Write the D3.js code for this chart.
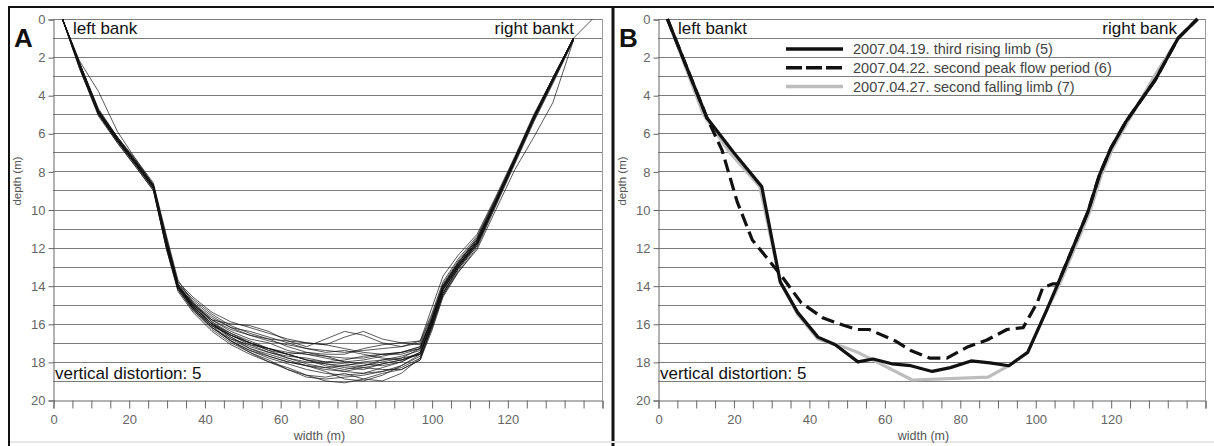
<!DOCTYPE html>
<html>
<head>
<meta charset="utf-8">
<script src="https://cdn.jsdelivr.net/npm/d3@7"></script>
<style>
  body { margin: 0; background: #fff; }
  svg { display: block; font-family: "Liberation Sans", Arial, sans-serif; }
</style>
</head>
<body>
<svg width="1214" height="446"></svg>
<script>
// stations (m) shared by all cross sections of panel A
var stations = [2.5, 7, 12, 17, 22, 26.5, 30, 33, 37, 42, 47, 52, 57, 62, 67, 72, 77, 82, 87, 92, 97, 100, 103, 107, 112, 117, 122, 127, 132, 137.5, 142.5];

// panel A: depths (m) of the individual surveys at each station
var surveysA = [
  [0, 2.3, 4.8, 6.2, 7.5, 8.7, 11.5, 13.9, 14.8, 15.6, 16.2, 16.6, 16.9, 17.1, 17.3, 17.4, 17.5, 17.4, 17.3, 17.2, 17.0, 15.6, 13.9, 12.7, 11.5, 9.5, 7.3, 5.1, 3.1, 1.0, null],
  [0, 2.5, 5.0, 6.4, 7.7, 8.9, 12.0, 14.2, 15.3, 16.2, 16.9, 17.4, 17.8, 18.1, 18.4, 18.6, 18.7, 18.6, 18.5, 18.3, 17.8, 16.2, 14.4, 13.1, 11.9, 9.7, 7.5, 5.3, 3.3, 1.1, null],
  [0, 2.4, 4.9, 6.3, 7.6, 8.8, 11.9, 14.1, 15.1, 16.0, 16.7, 17.3, 17.6, 17.9, 18.2, 18.5, 18.9, 19.0, 18.7, 18.2, 17.6, 16.0, 14.2, 13.0, 11.8, 9.6, 7.4, 5.2, 3.2, 1.0, null],
  [0, 2.4, 4.8, 6.3, 7.5, 8.7, 11.6, 13.8, 14.6, 15.4, 15.9, 16.2, 16.5, 16.8, 17.0, 17.1, 16.7, 16.4, 16.8, 17.0, 17.1, 15.7, 14.0, 12.8, 11.6, 9.5, 7.3, 5.1, 3.2, 1.0, null],
  [0, 2.6, 5.1, 6.5, 7.8, 9.0, 12.1, 14.3, 15.4, 16.4, 17.1, 17.6, 18.0, 18.3, 18.7, 19.0, 19.1, 18.9, 18.6, 18.4, 17.9, 16.4, 14.6, 13.3, 12.0, 9.8, 7.6, 5.4, 3.4, 1.1, null],
  [0, 2.3, 4.7, 6.2, 7.4, 8.6, 11.4, 13.7, 14.9, 15.8, 16.4, 16.8, 17.0, 17.4, 17.6, 17.7, 17.8, 17.8, 17.6, 17.5, 17.3, 15.8, 14.1, 12.9, 11.7, 9.6, 7.4, 5.2, 3.2, 1.0, null],
  [0, 2.4, 5.0, 6.4, 7.6, 8.8, 11.8, 14.0, 15.2, 16.1, 16.6, 17.0, 17.4, 17.8, 18.0, 18.1, 18.2, 18.3, 18.4, 18.4, 17.9, 16.1, 14.3, 13.0, 11.8, 9.6, 7.4, 5.2, 3.2, 1.0, null],
  [0, 2.4, 4.9, 6.4, 7.7, 8.9, 12.0, 14.1, 15.0, 15.8, 16.3, 16.6, 16.8, 16.9, 17.0, 17.1, 17.3, 17.5, 17.6, 17.5, 17.2, 15.8, 14.0, 12.8, 11.6, 9.6, 7.4, 5.2, 3.2, 1.0, null],
  [0, 2.5, 4.9, 6.3, 7.6, 8.8, 11.7, 14.0, 15.1, 16.0, 16.8, 17.3, 17.7, 18.0, 18.2, 18.3, 18.5, 18.6, 18.3, 18.0, 17.5, 16.0, 14.2, 13.0, 11.7, 9.6, 7.4, 5.2, 3.2, 1.0, null],
  [0, 2.3, 4.8, 6.2, 7.5, 8.7, 11.6, 13.9, 14.7, 15.5, 16.1, 16.5, 16.8, 17.2, 17.5, 17.6, 17.6, 17.3, 17.1, 17.0, 16.9, 15.5, 13.8, 12.6, 11.4, 9.4, 7.3, 5.1, 3.1, 1.0, null],
  [0, 2.4, 4.9, 6.3, 7.6, 8.8, 11.9, 14.1, 15.2, 16.2, 16.8, 17.1, 17.3, 17.6, 17.9, 18.2, 18.4, 18.2, 17.9, 17.8, 17.6, 16.1, 14.4, 13.1, 11.8, 9.7, 7.5, 5.3, 3.3, 1.0, null],
  [0, 2.5, 5.0, 6.4, 7.7, 8.9, 12.1, 14.2, 15.3, 16.3, 17.0, 17.5, 17.9, 18.4, 18.8, 18.9, 18.8, 18.7, 18.5, 18.2, 17.7, 16.3, 14.5, 13.2, 11.9, 9.7, 7.5, 5.3, 3.3, 1.1, null],
  [0, 2.4, 4.9, 6.3, 7.6, 8.8, 11.8, 14.0, 14.9, 15.7, 16.2, 16.4, 16.7, 17.0, 17.3, 17.5, 17.4, 17.6, 17.8, 17.9, 17.6, 15.9, 14.1, 12.9, 11.7, 9.6, 7.4, 5.2, 3.2, 1.0, null],
  [0, 2.3, 4.8, 6.3, 7.6, 8.8, 11.7, 13.9, 15.0, 16.0, 16.7, 17.2, 17.5, 17.7, 17.8, 18.0, 18.1, 18.2, 18.0, 17.8, 17.3, 15.8, 14.0, 12.8, 11.6, 9.5, 7.3, 5.1, 3.1, 1.0, null],
  [0, 2.6, 5.0, 6.5, 7.8, 9.0, 12.0, 14.2, 15.2, 16.1, 16.6, 17.0, 17.3, 17.5, 17.6, 17.8, 18.0, 18.1, 18.2, 18.0, 17.5, 16.0, 14.2, 13.0, 11.7, 9.6, 7.4, 5.2, 3.2, 1.0, null],
  [0, 2.4, 4.9, 6.3, 7.6, 8.8, 11.8, 14.0, 15.0, 15.8, 16.0, 16.1, 16.4, 16.9, 17.2, 16.8, 16.4, 16.6, 17.0, 17.2, 16.9, 15.2, 13.5, 12.4, 11.3, 9.3, 7.2, 5.0, 3.1, 1.0, null],
  [0, 2.4, 4.9, 6.3, 7.6, 8.8, 11.8, 14.1, 15.1, 16.1, 16.9, 17.5, 18.0, 18.4, 18.7, 18.8, 18.6, 18.9, 19.0, 18.6, 17.8, 16.2, 14.4, 13.1, 11.8, 9.6, 7.4, 5.2, 3.2, 1.0, null],
  [0, 2.4, 4.9, 6.2, 7.5, 8.8, 11.8, 14.0, 15.0, 15.9, 16.5, 17.0, 17.4, 17.6, 17.5, 17.7, 18.0, 17.9, 17.7, 17.5, 17.2, 15.8, 14.1, 12.9, 11.7, 9.6, 7.4, 5.2, 3.2, 1.0, null],
  [0, 2.2, 3.8, 5.9, 7.4, 8.7, 11.7, 14.0, 15.1, 16.0, 16.6, 17.1, 17.5, 17.8, 18.1, 18.3, 18.2, 18.0, 17.9, 17.7, 17.4, 15.9, 14.0, 12.8, 11.5, 9.4, 7.3, 5.1, 3.2, 1.0, 0],
  [0, 2.5, 5.0, 6.4, 7.7, 8.9, 11.9, 14.0, 14.9, 15.9, 16.6, 17.0, 17.3, 17.6, 17.9, 18.1, 18.3, 18.4, 18.1, 17.9, 17.5, 16.1, 14.5, 13.3, 12.1, 10.0, 7.9, 6.2, 4.4, 1.1, null],
  [0, 2.4, 4.9, 6.3, 7.6, 8.8, 11.8, 14.0, 15.1, 16.0, 16.5, 16.9, 17.3, 17.6, 17.9, 18.0, 17.9, 17.7, 17.6, 17.6, 17.3, 15.8, 14.1, 12.9, 11.7, 9.6, 7.4, 5.2, 3.2, 1.0, null],
  [0, 2.4, 4.8, 6.3, 7.6, 8.8, 11.8, 14.1, 15.2, 16.2, 16.9, 17.4, 17.7, 18.0, 18.2, 18.4, 18.5, 18.3, 18.1, 17.9, 17.6, 15.9, 14.2, 13.0, 11.7, 9.6, 7.4, 5.2, 3.2, 1.0, null]
];

// panel B: three selected surveys, own stations
var bX5 = [2.5, 13, 20, 27.5, 32.4, 37, 42.4, 47, 53, 57, 62, 67, 72.7, 77.5, 83, 88, 93, 98, 103, 106, 110, 114, 117, 120, 124, 131.8, 137.9, 143];
var bD5 = [0, 5.2, 7.0, 8.8, 13.8, 15.4, 16.7, 17.1, 18.0, 17.85, 18.1, 18.2, 18.5, 18.3, 17.95, 18.05, 18.2, 17.5, 15.3, 13.9, 12.0, 10.1, 8.2, 6.8, 5.4, 3.2, 1.0, 0];

var bX6 = [2.5, 13, 17, 21, 25, 32.4, 38, 43.8, 48, 52.8, 56, 62.9, 67, 72, 76.6, 82.2, 87.2, 92.5, 96.8, 100.5, 102, 104.7, 106, 110, 114, 117, 120, 124, 131.8, 137.9, 143];
var bD6 = [0, 5.2, 6.9, 9.6, 11.6, 13.4, 14.9, 15.7, 16.0, 16.3, 16.3, 16.9, 17.4, 17.8, 17.8, 17.2, 16.85, 16.3, 16.2, 14.9, 14.1, 13.9, 13.9, 12.0, 10.1, 8.2, 6.8, 5.4, 3.2, 1.0, 0];

var bX7 = [2.5, 12, 19, 27, 32.4, 37, 42.4, 49, 53, 67.4, 87.5, 93, 98, 103, 106.5, 110.5, 114.5, 117.5, 120.5, 124.5, 131, 137.9, 143];
var bD7 = [0, 5.0, 7.0, 8.8, 13.8, 15.5, 16.8, 17.2, 17.5, 18.95, 18.8, 18.2, 17.5, 15.3, 13.9, 12.0, 10.1, 8.2, 6.8, 5.4, 3.2, 1.0, 0];

var legendLabels = [
  "2007.04.19. third rising limb (5)",
  "2007.04.22. second peak flow period (6)",
  "2007.04.27. second falling limb (7)"
];

var xTicks = d3.range(0, 146, 5);
var yTicks = d3.range(0, 21, 2);
var gridDepths = d3.range(0, 20, 1);

var svg = d3.select("svg");

function drawPanel(left, right, letter, leftText, rightText) {
  var x = d3.scaleLinear().domain([0, 145]).range([left, right]);
  var y = d3.scaleLinear().domain([0, 20]).range([19, 400]);
  var g = svg.append("g");

  // horizontal grid
  g.selectAll(".grid")
    .data(gridDepths)
    .enter()
    .append("line")
    .attr("x1", left)
    .attr("x2", right)
    .attr("y1", (d) => Math.round(y(d)) + 0.5)
    .attr("y2", (d) => Math.round(y(d)) + 0.5)
    .style("stroke", "#7c7c7c")
    .style("stroke-width", 1);

  // right edge of plot area
  g.append("line")
    .attr("x1", right + 0.5).attr("x2", right + 0.5)
    .attr("y1", 19).attr("y2", 400)
    .style("stroke", "#9a9a9a");

  var ya = g.append("g")
    .attr("transform", "translate(" + (left + 0.5) + ",0.5)")
    .call(d3.axisLeft(y).tickValues(yTicks).tickSize(5).tickPadding(3));
  var xa = g.append("g")
    .attr("transform", "translate(0.5," + (Math.round(y(20)) + 0.5) + ")")
    .call(d3.axisBottom(x).tickValues(xTicks).tickSize(8).tickPadding(6)
      .tickFormat((d) => (d % 20 === 0 && d <= 120 ? d : "")));
  [ya, xa].forEach(function (a) {
    a.selectAll("path, line").style("stroke", "#666");
    a.selectAll("text")
      .style("font-size", "13px")
      .style("fill", "#666")
      .style("font-family", "'Liberation Sans', Arial, sans-serif");
  });

  // axis titles
  g.append("text")
    .attr("transform", "translate(" + (left - 32) + ",181) rotate(-90)")
    .attr("text-anchor", "middle")
    .style("font-size", "11.5px")
    .style("fill", "#555")
    .text("depth (m)");
  g.append("text")
    .attr("x", (left + right) / 2 - 8)
    .attr("y", 440)
    .attr("text-anchor", "middle")
    .style("font-size", "12.5px")
    .style("fill", "#555")
    .text("width (m)");

  // panel letter and labels
  g.append("text")
    .attr("x", left - 39).attr("y", 47)
    .style("font-size", "26px").style("font-weight", "bold").style("fill", "#111")
    .text(letter);
  g.append("text")
    .attr("x", left + 20).attr("y", 34)
    .style("font-size", "17px").style("fill", "#111")
    .text(leftText);
  g.append("text")
    .attr("x", right - 28).attr("y", 34)
    .attr("text-anchor", "end")
    .style("font-size", "17px").style("fill", "#111")
    .text(rightText);
  g.append("text")
    .attr("x", left + 2).attr("y", 379)
    .style("font-size", "17px").style("fill", "#111")
    .text("vertical distortion: 5");

  return { g: g, x: x, y: y };
}

// panel frames
svg.append("line").attr("x1", 8).attr("x2", 1214).attr("y1", 7).attr("y2", 7)
  .style("stroke", "#111").style("stroke-width", 2);
svg.append("line").attr("x1", 9).attr("x2", 9).attr("y1", 6).attr("y2", 446)
  .style("stroke", "#111").style("stroke-width", 2);
svg.append("line").attr("x1", 613).attr("x2", 613).attr("y1", 6).attr("y2", 446)
  .style("stroke", "#111").style("stroke-width", 3);
svg.append("line").attr("x1", 10).attr("x2", 1214).attr("y1", 442).attr("y2", 442)
  .style("stroke", "#e6e6e6").style("stroke-width", 2);

// panel A
var A = drawPanel(53, 602, "A", "left bank", "right bankt");
var lineA = d3.line()
  .defined((d) => d[1] !== null)
  .x((d) => A.x(d[0]))
  .y((d) => A.y(d[1]));
A.g.selectAll(".survey")
  .data(surveysA)
  .enter()
  .append("path")
  .attr("d", (s) => lineA(stations.map((st, i) => [st, s[i]])))
  .style("fill", "none")
  .style("stroke", "#111")
  .style("stroke-width", 0.7)
  .style("stroke-linejoin", "round");

// panel B
var B = drawPanel(658, 1205, "B", "left bankt", "right bank");
var lineB = d3.line().x((d) => B.x(d[0])).y((d) => B.y(d[1]));
var seriesB = [
  { xs: bX7, ds: bD7, color: "#bdbdbd", dash: null },
  { xs: bX6, ds: bD6, color: "#111", dash: "13,6" },
  { xs: bX5, ds: bD5, color: "#111", dash: null }
];
B.g.selectAll(".sel")
  .data(seriesB)
  .enter()
  .append("path")
  .attr("d", (s) => lineB(s.xs.map((v, i) => [v, s.ds[i]])))
  .style("fill", "none")
  .style("stroke", (s) => s.color)
  .style("stroke-width", 3.2)
  .style("stroke-dasharray", (s) => s.dash)
  .style("stroke-linejoin", "round");

// legend
var legendStyles = [
  { color: "#111", dash: null },
  { color: "#111", dash: "16,4" },
  { color: "#bdbdbd", dash: null }
];
var leg = svg.append("g").attr("transform", "translate(786,49)");
legendLabels.forEach(function (lab, i) {
  leg.append("line")
    .attr("x1", 0).attr("x2", 57)
    .attr("y1", i * 18.8).attr("y2", i * 18.8)
    .style("stroke", legendStyles[i].color)
    .style("stroke-width", 3.5)
    .style("stroke-dasharray", legendStyles[i].dash);
  leg.append("text")
    .attr("x", 67).attr("y", i * 18.8 + 5)
    .style("font-size", "14.5px")
    .style("fill", "#444")
    .text(lab);
});
</script>
</body>
</html>
